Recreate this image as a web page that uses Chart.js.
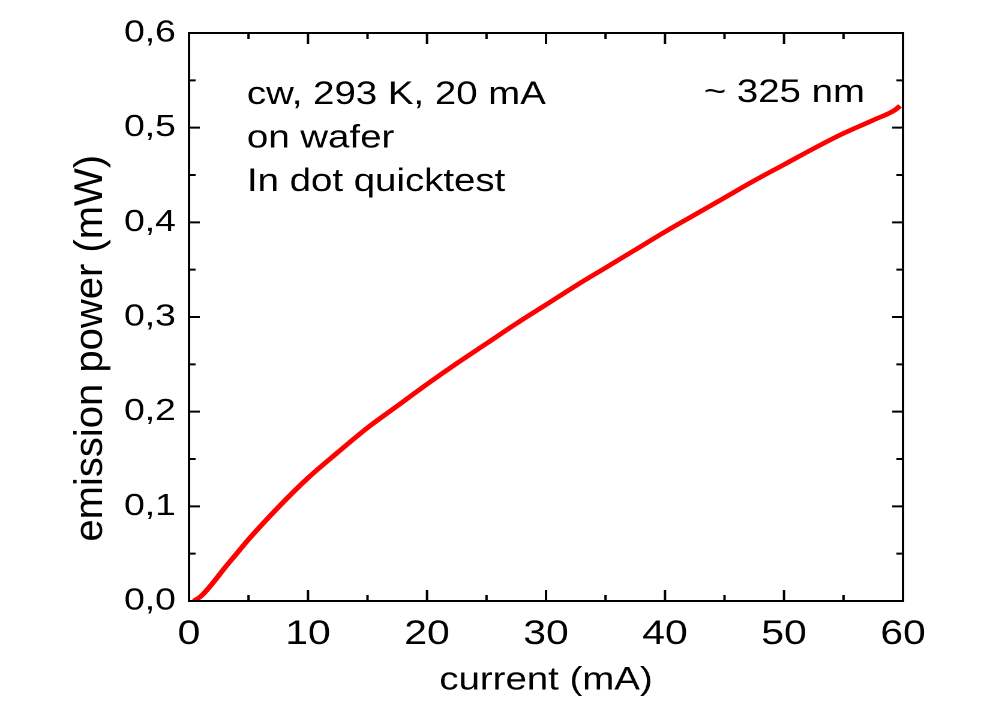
<!DOCTYPE html>
<html>
<head>
<meta charset="utf-8">
<script src="https://cdn.jsdelivr.net/npm/chart.js@4/dist/chart.umd.min.js"></script>
<style>
  html, body { margin: 0; padding: 0; background: #fff; overflow: hidden; }
  /* the reference lettering is drawn wide, so the whole chart is stretched sideways */
  #wrap { width: 837px; height: 709px; transform: scaleX(1.2); transform-origin: 0 0; }
</style>
</head>
<body>
<div id="wrap"><canvas id="chart"></canvas></div>
<script>
var STRETCH = 1.2;

// current (mA) and emission power (mW)
var current = [0.4, 1, 2, 3, 4, 5, 7.5, 10, 12.5, 15, 17.5, 20, 22.5, 25, 27.5, 30,
               32.5, 35, 37.5, 40, 42.5, 45, 47.5, 50, 52.5, 55, 57.5, 59.3, 59.75];
var power = [0, 0.005, 0.019, 0.035, 0.050, 0.065, 0.099, 0.130, 0.157, 0.183, 0.206,
             0.229, 0.251, 0.272, 0.293, 0.313, 0.333, 0.352, 0.371, 0.390, 0.408,
             0.426, 0.444, 0.461, 0.478, 0.494, 0.508, 0.5185, 0.523];

var notes_left = ['cw, 293 K, 20 mA', 'on wafer', 'In dot quicktest'];
var note_right = '~ 325 nm';
var y_title = 'emission power (mW)';

var FONT = '"Liberation Sans", Arial, sans-serif';

// frame with inward ticks on all four sides, the y title and the text notes
var frame = {
	id: 'frame',
	afterDraw: function(chart) {
		var ctx = chart.ctx, a = chart.chartArea;
		var x = chart.scales.x, y = chart.scales.y;
		ctx.save();
		ctx.strokeStyle = '#000';
		ctx.lineWidth = 2;
		ctx.strokeRect(a.left, a.top, a.right - a.left, a.bottom - a.top);
		ctx.beginPath();
		for (var i = 0; i <= 12; i++) {
			var px = x.getPixelForValue(i * 5);
			var len = i % 2 == 0 ? 11 : 6;
			ctx.moveTo(px, a.bottom); ctx.lineTo(px, a.bottom - len);
			ctx.moveTo(px, a.top); ctx.lineTo(px, a.top + len);
		}
		for (var j = 0; j <= 12; j++) {
			var py = y.getPixelForValue(j * 0.05);
			var lh = j % 2 == 0 ? 9 : 5.5;
			ctx.moveTo(a.left, py); ctx.lineTo(a.left + lh, py);
			ctx.moveTo(a.right, py); ctx.lineTo(a.right - lh, py);
		}
		ctx.stroke();

		ctx.fillStyle = '#000';
		ctx.font = '32px ' + FONT;
		ctx.textBaseline = 'alphabetic';
		ctx.textAlign = 'left';
		var base = [0.525, 0.479, 0.433];
		for (var k = 0; k < notes_left.length; k++) {
			ctx.fillText(notes_left[k], x.getPixelForValue(4.87), y.getPixelForValue(base[k]));
		}
		ctx.textAlign = 'right';
		ctx.fillText(note_right, x.getPixelForValue(56.8), y.getPixelForValue(0.527));

		// rotated title, undoing the sideways stretch so its glyphs keep their shape
		ctx.translate(85, y.getPixelForValue(0.267));
		ctx.scale(1 / STRETCH, 1);
		ctx.rotate(-Math.PI / 2);
		ctx.font = '40px ' + FONT;
		ctx.textAlign = 'center';
		ctx.fillText(y_title, 0, 0);
		ctx.restore();
	}
};

var points = [];
for (var n = 0; n < current.length; n++) {
	points.push({x: current[n], y: power[n]});
}

var ctx = document.getElementById('chart').getContext('2d');
var chart = new Chart(ctx, {
	type: 'line',
	data: {
		datasets: [{
			data: points,
			borderColor: '#ff0000',
			borderWidth: 4.5,
			pointRadius: 0,
			cubicInterpolationMode: 'monotone',
			fill: false
		}]
	},
	options: {
		responsive: true,
		maintainAspectRatio: false,
		animation: false,
		devicePixelRatio: 2,
		layout: { padding: { top: 33, right: 84.5, left: 0, bottom: 0 } },
		plugins: { legend: { display: false }, tooltip: { enabled: false } },
		scales: {
			x: {
				type: 'linear',
				min: 0, max: 60,
				grid: { display: false, drawTicks: false },
				border: { display: false },
				ticks: { stepSize: 10, padding: 13, color: '#000', font: { family: FONT, size: 34 } },
				title: { display: true, text: 'current (mA)', color: '#000',
				         font: { family: FONT, size: 32 }, padding: { top: 0, bottom: 9 } },
				afterFit: function(s) { s.height = 108; }
			},
			y: {
				min: 0, max: 0.6,
				grid: { display: false, drawTicks: false },
				border: { display: false },
				ticks: {
					stepSize: 0.1, padding: 11, color: '#000',
					font: { family: FONT, size: 31 },
					callback: function(v) { return v.toFixed(1).replace('.', ','); }
				},
				afterFit: function(s) { s.width = 157.5; }
			}
		}
	},
	plugins: [frame]
});
</script>
</body>
</html>
